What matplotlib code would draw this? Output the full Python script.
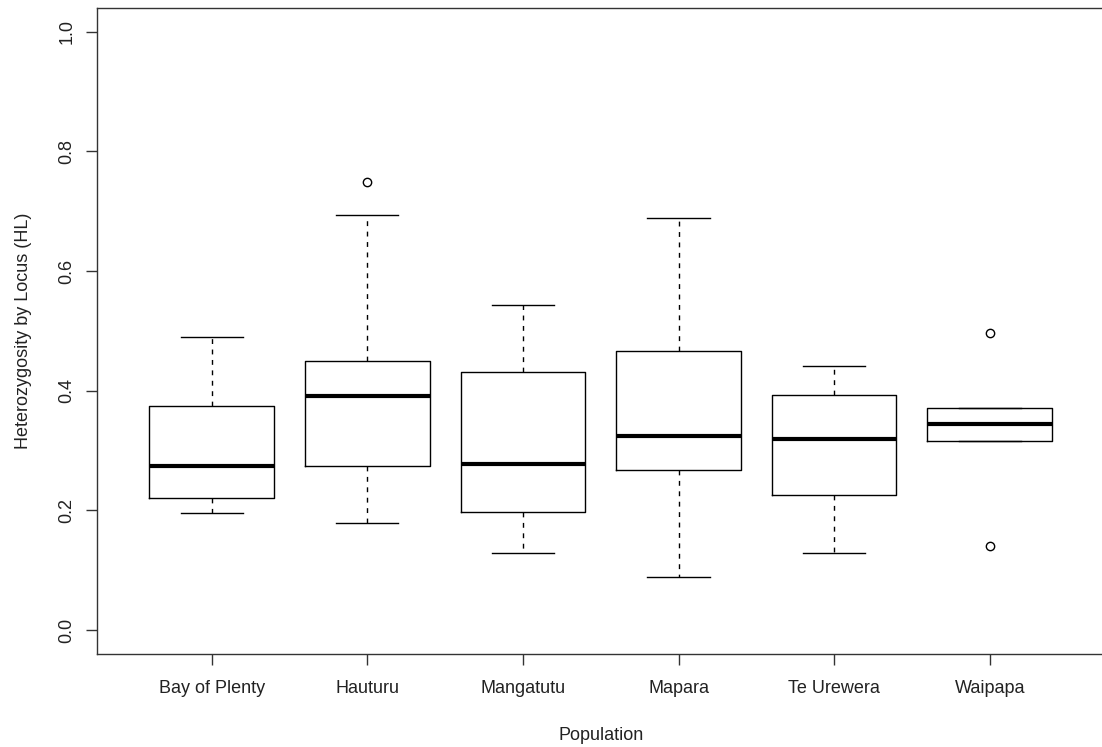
import matplotlib
matplotlib.use("Agg")
import matplotlib.pyplot as plt

# populations and the box statistics
populations = ["Bay of Plenty", "Hauturu", "Mangatutu", "Mapara", "Te Urewera", "Waipapa"]
whisker_low = [0.195, 0.179, 0.129, 0.089, 0.129, 0.316]
q1 = [0.221, 0.274, 0.197, 0.267, 0.226, 0.316]
medians = [0.275, 0.392, 0.278, 0.325, 0.319, 0.345]
q3 = [0.374, 0.449, 0.432, 0.466, 0.393, 0.371]
whisker_high = [0.490, 0.693, 0.543, 0.688, 0.441, 0.371]
outliers = [[], [0.749], [], [], [], [0.496, 0.141]]

plt.rcParams["font.family"] = ["Liberation Sans", "DejaVu Sans"]

fig = plt.figure(figsize=(11.02, 7.47), dpi=100)
ax = fig.add_axes([0.0876, 0.1245, 0.915, 0.865])

stats = []
for i, name in enumerate(populations):
    stats.append({
        "label": name,
        "whislo": whisker_low[i],
        "q1": q1[i],
        "med": medians[i],
        "q3": q3[i],
        "whishi": whisker_high[i],
        "fliers": outliers[i],
    })

ax.bxp(
    stats,
    positions=range(1, len(populations) + 1),
    widths=0.8,
    boxprops=dict(color="black", linewidth=1.0),
    medianprops=dict(color="black", linewidth=3.0, solid_capstyle="butt"),
    whiskerprops=dict(color="black", linewidth=1.0, linestyle=(0, (3.5, 4))),
    capprops=dict(color="black", linewidth=1.0),
    flierprops=dict(marker="o", markerfacecolor="none", markeredgecolor="black",
                    markersize=6, markeredgewidth=1.0),
    capwidths=0.4,
)

ax.set_xlim(0.26, 6.74)
ax.set_ylim(-0.04, 1.04)
ax.set_yticks([0.0, 0.2, 0.4, 0.6, 0.8, 1.0])
ax.set_yticklabels(["0.0", "0.2", "0.4", "0.6", "0.8", "1.0"], rotation=90, va="center")

ax.tick_params(axis="both", length=8, width=1, labelsize=13, color="#333333", labelcolor="#222222")
ax.tick_params(axis="x", pad=11)
ax.tick_params(axis="y", pad=7)

for side in ["top", "bottom", "left", "right"]:
    ax.spines[side].set_linewidth(1.0)
    ax.spines[side].set_color("#333333")
# the right edge of the frame falls outside the picture
ax.spines["right"].set_visible(False)

ax.set_xlabel("Population", fontsize=13, color="#222222", labelpad=21)
ax.set_ylabel("Heterozygosity by Locus (HL)", fontsize=13, color="#222222", labelpad=19)

fig.savefig("out.png", dpi=100)
